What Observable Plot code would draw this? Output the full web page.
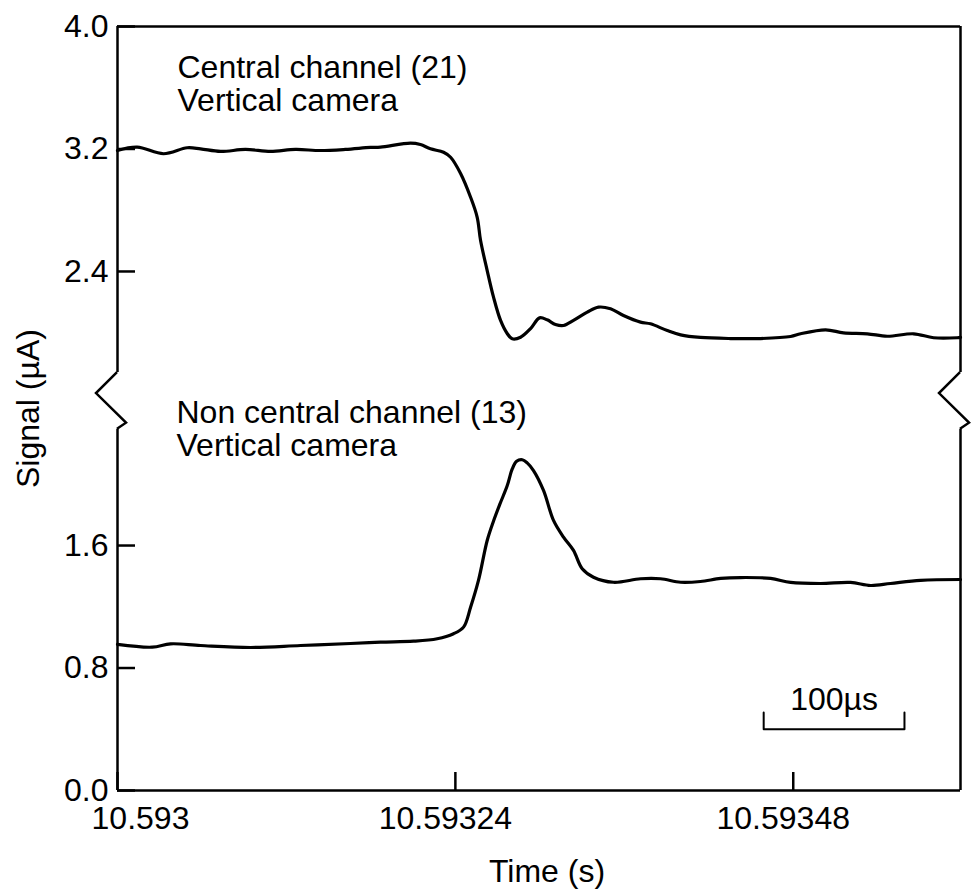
<!DOCTYPE html>
<html><head><meta charset="utf-8">
<script src="https://cdn.jsdelivr.net/npm/d3@7"></script>
<script src="https://cdn.jsdelivr.net/npm/@observablehq/plot@0.6"></script>
<style>body{margin:0;background:#fff}</style>
</head><body><div id="chart"></div>
<script>
// Time in microseconds after 10.593 s
const centralTime = [0,14,32.7,49.5,59,73.2,90.9,108.7,126.4,144.1,161.9,179.7,186.8,208.1,215.2,222.3,231.6,236.6,243.7,250.8,255.5,257.9,262.6,267.1,272.1,276.8,280.4,286.3,293.4,299.8,305.2,311.1,316.8,323.9,333.7,341.7,350.2,359.4,371.5,378.6,390.5,400,414.1,435.5,456.8,478.1,485.2,503,515.7,532.6,546.8,565.5,579.7,596.5,598.8];
const centralSignal = [3.190,3.212,3.169,3.208,3.201,3.184,3.197,3.184,3.197,3.190,3.197,3.210,3.212,3.238,3.229,3.201,3.179,3.146,3.040,2.885,2.754,2.602,2.406,2.232,2.080,1.995,1.960,1.970,2.027,2.097,2.084,2.054,2.047,2.080,2.134,2.167,2.156,2.112,2.069,2.058,2.014,1.986,1.969,1.962,1.962,1.975,1.993,2.019,1.999,1.993,1.977,1.993,1.967,1.967,1.969];
const noncentralTime = [0,24.7,37.7,59,94.5,130,165.5,186.8,210.3,227.1,238.7,245.8,250.8,256.4,262.6,267.1,271.6,276.8,280.4,283.5,287.5,291,295.5,302.6,309.7,316.8,323.9,330.1,338.1,352.3,371.5,385.7,400,414.1,428.4,442.6,463.9,478.1,499.4,520.7,534.9,549.1,570.4,598.8];
const noncentralSignal = [0.954,0.936,0.958,0.947,0.934,0.947,0.960,0.969,0.975,0.991,1.024,1.067,1.197,1.372,1.633,1.760,1.870,1.990,2.100,2.150,2.160,2.140,2.090,1.960,1.764,1.655,1.568,1.448,1.393,1.360,1.383,1.383,1.360,1.365,1.385,1.391,1.385,1.359,1.352,1.359,1.339,1.352,1.372,1.378];

const xTickValues = [0, 240, 480];
const xTickLabels = ["10.593", "10.59324", "10.59348"];
const yTickValues = [0, 0.8, 1.6, 2.4, 3.2, 4.0];
const yTickLabels = ["0.0", "0.8", "1.6", "2.4", "3.2", "4.0"];
const yTickPanel = ["lower", "lower", "lower", "upper", "upper", "upper"];
const upperOffset = 0.99;        // broken axis: upper panel shift (virtual units)
const breakGap = [2.36, 2.73];   // virtual units where the axis is broken
const timeMax = 598.8;
const yTop = 4.0 + upperOffset;

const centralLabel = "Central channel (21)\nVertical camera";
const noncentralLabel = "Non central channel (13)\nVertical camera";
const scaleBar = {start: 459, length: 100, level: 0.40, tick: 0.11, label: "100µs"};

const central = centralTime.map((t, i) => ({t, v: centralSignal[i] + upperOffset}));
const noncentral = noncentralTime.map((t, i) => ({t, v: noncentralSignal[i]}));
const yPos = yTickValues.map((v, i) => yTickPanel[i] === "upper" ? v + upperOffset : v);
const yLabelMap = new Map(yPos.map((p, i) => [p, yTickLabels[i]]));
const xLabelMap = new Map(xTickValues.map((p, i) => [p, xTickLabels[i]]));
const barPts = [
  {t: scaleBar.start, v: scaleBar.level + scaleBar.tick},
  {t: scaleBar.start, v: scaleBar.level},
  {t: scaleBar.start + scaleBar.length, v: scaleBar.level},
  {t: scaleBar.start + scaleBar.length, v: scaleBar.level + scaleBar.tick}
];
const axisSegs = [
  {x: 0, y1: 0, y2: breakGap[0]}, {x: 0, y1: breakGap[1], y2: yTop},
  {x: timeMax, y1: 0, y2: breakGap[0]}, {x: timeMax, y1: breakGap[1], y2: yTop}
];

const FS = 32;
const chart = Plot.plot({
  width: 971, height: 891,
  marginLeft: 117, marginRight: 11, marginTop: 26, marginBottom: 101,
  style: {fontFamily: "'Liberation Sans', Arial, sans-serif", fontSize: FS + "px", color: "#000", background: "#fff"},
  x: {domain: [0, timeMax], axis: null},
  y: {domain: [0, yTop], axis: null},
  marks: [
    Plot.axisY({ticks: yPos, tickSize: -18, tickFormat: () => "", strokeWidth: 2.5}),
    Plot.axisY({ticks: yPos, tickSize: 0, tickPadding: 9, tickFormat: d => yLabelMap.get(d), fontSize: FS}),
    Plot.axisX({ticks: xTickValues, tickSize: -18, tickFormat: () => "", strokeWidth: 2.5}),
    Plot.axisX({ticks: xTickValues.slice(0, 1), tickSize: 0, tickPadding: 16, dx: 23, tickFormat: d => xLabelMap.get(d), fontSize: FS, label: null}),
    Plot.axisX({ticks: xTickValues.slice(1), tickSize: 0, tickPadding: 16, dx: -10, tickFormat: d => xLabelMap.get(d), fontSize: FS, label: null}),
    Plot.ruleY([0, yTop], {stroke: "#000", strokeWidth: 2.5}),
    Plot.ruleX(axisSegs, {x: "x", y1: "y1", y2: "y2", stroke: "#000", strokeWidth: 2.5}),
    Plot.line(central, {x: "t", y: "v", stroke: "#000", strokeWidth: 3.2, curve: "catmull-rom"}),
    Plot.line(noncentral, {x: "t", y: "v", stroke: "#000", strokeWidth: 3.2, curve: "catmull-rom"}),
    Plot.line(barPts, {x: "t", y: "v", stroke: "#000", strokeWidth: 2}),
    Plot.text([scaleBar.label], {x: scaleBar.start + scaleBar.length / 2, y: scaleBar.level, dy: -19, lineAnchor: "bottom", fontSize: FS, fill: "#000"}),
    Plot.text([centralLabel], {frameAnchor: "top-left", dx: 60, dy: 28, lineAnchor: "top", textAnchor: "start", fontSize: FS, lineHeight: 1.03, fill: "#000"}),
    Plot.text([noncentralLabel], {frameAnchor: "top-left", dx: 59, dy: 373, lineAnchor: "top", textAnchor: "start", fontSize: FS, lineHeight: 1.03, fill: "#000"}),
    Plot.text(["Time (s)"], {frameAnchor: "bottom", dx: 8, dy: 91, lineAnchor: "bottom", fontSize: FS, fill: "#000"}),
    Plot.text(["Signal (µA)"], {frameAnchor: "left", dx: -89, rotate: -90, lineAnchor: "middle", textAnchor: "middle", fontSize: FS, fill: "#000"})
  ]
});

// axis-break zigzags drawn with the plot's own scales
const sx = chart.scale("x"), sy = chart.scale("y");
const svg = d3.select(chart);
for (const t of [0, timeMax]) {
  const x0 = sx.apply(t), yA = sy.apply(breakGap[1]), yB = sy.apply(breakGap[0]);
  const pts = [[x0, yA], [x0 - 21, yA + 21], [x0 + 9, yB - 6], [x0, yB]];
  svg.append("path").attr("d", d3.line()(pts)).attr("fill", "none")
    .attr("stroke", "#000").attr("stroke-width", 2.5).attr("stroke-linejoin", "miter");
}
document.getElementById("chart").appendChild(chart);
</script>
</body></html>
